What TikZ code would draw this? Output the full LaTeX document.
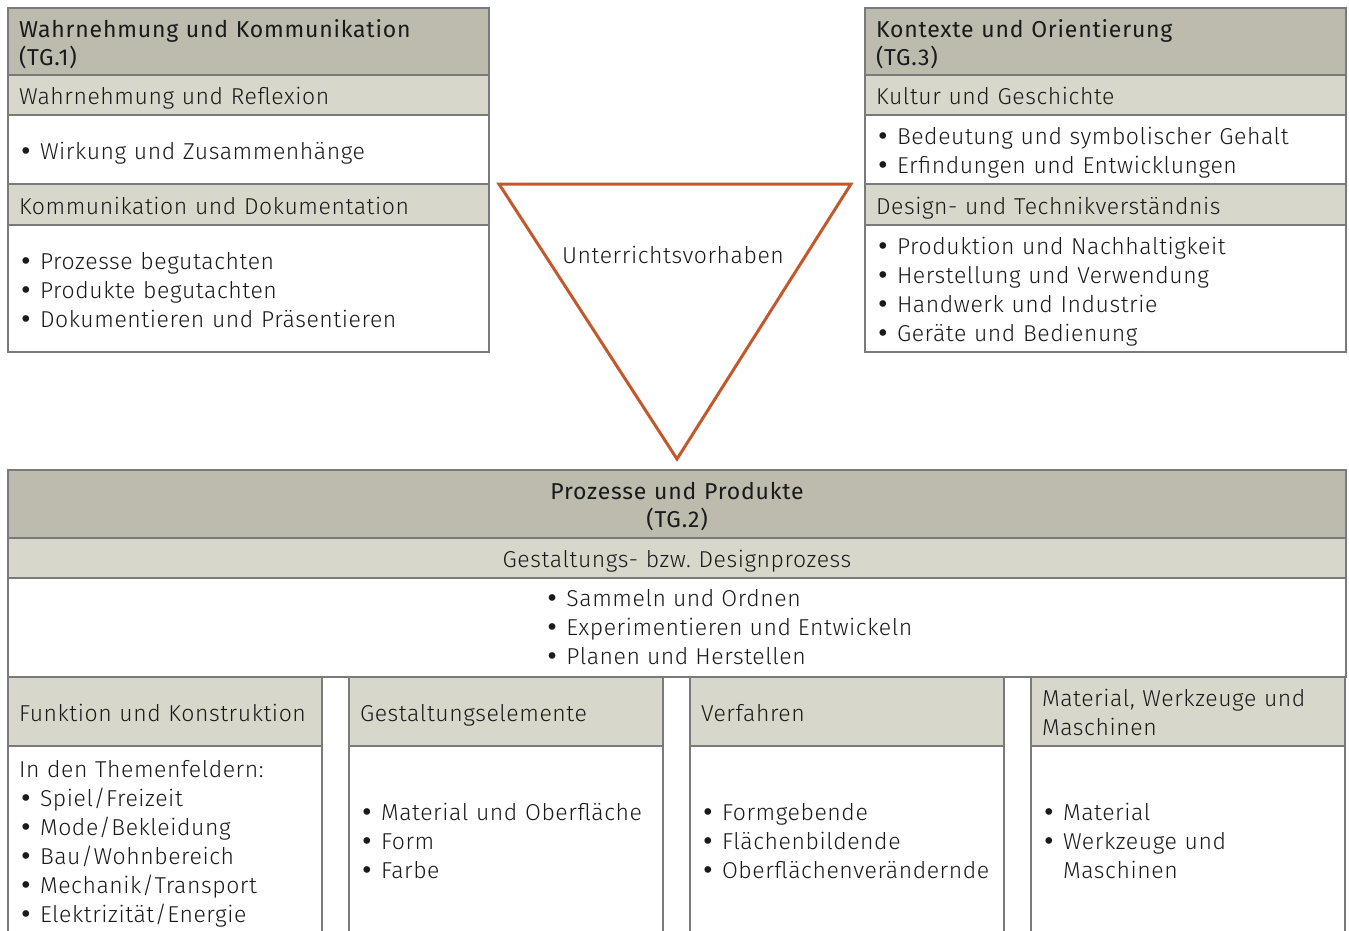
\documentclass[tikz,border=0pt]{standalone}
\usepackage{fontspec}
\setmainfont{Fira Sans Light}[BoldFont={Fira Sans}, LetterSpace=2.5]
\newfontfamily\kraeftig{Fira Sans}[LetterSpace=3.5]
\newfontfamily\zeichen{DejaVu Sans}
\usetikzlibrary{positioning}
\frenchspacing
\definecolor{kopfdunkel}{HTML}{BCBBAD}
\definecolor{kopfhell}{HTML}{D8D7CB}
\definecolor{rahmen}{HTML}{7A7A7A}
\definecolor{dreieck}{HTML}{C2582B}
\definecolor{schrift}{HTML}{1A1A1A}
\newcommand\pkt{\makebox[10.5pt][l]{\zeichen •}}
\tikzset{
  feld/.style={draw=rahmen, line width=0.6pt, anchor=north west, outer sep=0pt, inner xsep=5.5pt, inner ysep=0pt,
    align=left, text=schrift, font=\fontsize{11.5}{14.5}\selectfont,
    execute at begin node={\rule{0pt}{12.9pt}}, execute at end node={\rule[-3pt]{0pt}{0pt}}},
  haupt/.style={feld, fill=kopfdunkel, font=\kraeftig\fontsize{11.5}{14}\selectfont},
  unter/.style={feld, fill=kopfhell},
  inhalt/.style={feld, fill=white},
  seite/.style={minimum width=240.5pt, text width=229.5pt},
  spalte/.style={minimum width=157pt, text width=146pt},
  breit/.style={minimum width=669pt, text width=658pt},
  liste/.style={inner sep=0pt, align=left, text=schrift, font=\fontsize{11.5}{14.5}\selectfont},
}
\begin{document}
\begin{tikzpicture}[x=0.5pt, y=-0.5pt]
  \useasboundingbox (0,0) rectangle (1349,931);
  \clip (0,0) rectangle (1349,931);
  % TG.1
  \node [haupt, seite, minimum height=33.5pt] (tg1) at (8,8) {Wahrnehmung und Kommunikation\\(TG.1)};
  \node [unter, seite, minimum height=20pt] (tg1a) at (tg1.south west) {Wahrnehmung und Reflexion};
  \node [inhalt, seite, minimum height=34.5pt] (tg1b) at (tg1a.south west) {\pkt Wirkung und Zusammenhänge};
  \node [unter, seite, minimum height=20.5pt] (tg1c) at (tg1b.south west) {Kommunikation und Dokumentation};
  \node [inhalt, seite, minimum height=63.5pt] (tg1d) at (tg1c.south west)
    {\pkt Prozesse begutachten\\ \pkt Produkte begutachten\\ \pkt Dokumentieren und Präsentieren};
  % TG.3
  \node [haupt, seite, minimum height=33.5pt] (tg3) at (865,8) {Kontexte und Orientierung\\(TG.3)};
  \node [unter, seite, minimum height=20pt] (tg3a) at (tg3.south west) {Kultur und Geschichte};
  \node [inhalt, seite, minimum height=34.5pt] (tg3b) at (tg3a.south west)
    {\pkt Bedeutung und symbolischer Gehalt\\ \pkt Erfindungen und Entwicklungen};
  \node [unter, seite, minimum height=20.5pt] (tg3c) at (tg3b.south west) {Design- und Technikverständnis};
  \node [inhalt, seite, minimum height=63.5pt] (tg3d) at (tg3c.south west)
    {\pkt Produktion und Nachhaltigkeit\\ \pkt Herstellung und Verwendung\\ \pkt Handwerk und Industrie\\ \pkt Geräte und Bedienung};
  % Unterrichtsvorhaben
  \draw [dreieck, line width=1.5pt] (499,184) -- (851,184) -- (677,459) -- cycle;
  \node [liste] (uv) at (673,255) {Unterrichtsvorhaben};
  % TG.2
  \node [haupt, breit, align=center, minimum height=34pt] (tg2) at (8,470) {Prozesse und Produkte\\(TG.2)};
  \node [unter, breit, align=center, minimum height=20pt] (tg2a) at (tg2.south west) {Gestaltungs- bzw. Designprozess};
  \node [inhalt, breit, minimum height=49.5pt] (tg2b) at (tg2a.south west) {};
  \node [liste, right=268.5pt of tg2b.west]
    {\pkt Sammeln und Ordnen\\ \pkt Experimentieren und Entwickeln\\ \pkt Planen und Herstellen};
  \node [unter, spalte, minimum height=34.5pt] (sp1) at (8,677) {Funktion und Konstruktion};
  \node [inhalt, spalte, minimum height=94pt] (sp1t) at (sp1.south west)
    {In den Themenfeldern:\\ \pkt Spiel/Freizeit\\ \pkt Mode/Bekleidung\\ \pkt Bau/Wohnbereich\\ \pkt Mechanik/Transport\\ \pkt Elektrizität/Energie};
  \node [unter, spalte, minimum height=34.5pt] (sp2) at (349,677) {Gestaltungselemente};
  \node [inhalt, spalte, minimum height=94pt] (sp2t) at (sp2.south west)
    {\pkt Material und Oberfläche\\ \pkt Form\\ \pkt Farbe};
  \node [unter, spalte, minimum height=34.5pt] (sp3) at (690,677) {Verfahren};
  \node [inhalt, spalte, minimum height=94pt] (sp3t) at (sp3.south west)
    {\pkt Formgebende\\ \pkt Flächenbildende\\ \pkt Oberflächenverändernde};
  \node [unter, spalte, minimum height=34.5pt] (sp4) at (1031,677) {Material, Werkzeuge und\\Maschinen};
  \node [inhalt, spalte, minimum height=94pt] (sp4t) at (sp4.south west)
    {\pkt Material\\ \pkt Werkzeuge und\\ \hspace*{10.5pt}Maschinen};
\end{tikzpicture}
\end{document}
